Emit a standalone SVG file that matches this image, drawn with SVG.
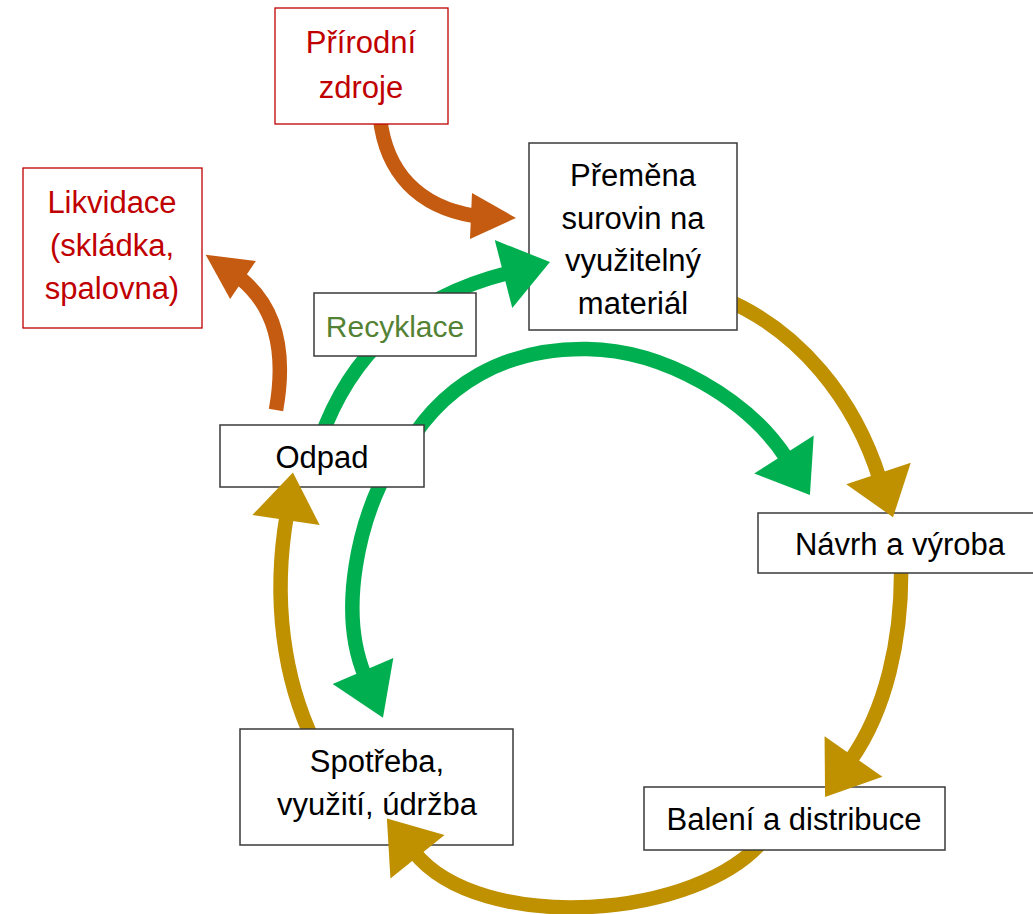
<svg xmlns="http://www.w3.org/2000/svg" xmlns:xlink="http://www.w3.org/1999/xlink" width="1033" height="914" viewBox="0 0 1033 914">
  <style>
    text { font-family: "Liberation Sans", Arial, sans-serif; font-size: 31px; text-anchor: middle; fill: #000; }
    .box { fill: #fff; stroke: #3a3a3a; stroke-width: 1.5; }
    .rbox { fill: #fff; stroke: #c00000; stroke-width: 1.3; }
    .red { fill: #c00000; }
    .grn { fill: #548235; font-size: 30px; }
    .arc { fill: none; stroke-width: 14.5; stroke-linecap: butt; }
    .gold { stroke: #bf9000; }
    .green { stroke: #00b050; }
    .orange { stroke: #c55a11; }
    .hgold { fill: #bf9000; }
    .hgreen { fill: #00b050; }
    .horange { fill: #c55a11; }
  </style>
  <defs>
    <path id="head" d="M0,-34 L48,0 L0,34 Z"/>
    <path id="headSmall" d="M0,-23 L45,0 L0,23 Z"/>
  </defs>
  <rect width="1033" height="914" fill="#fff"/>

  <!-- curved arrow bodies; their tails run behind the boxes -->
  <g id="connectors">
    <!-- outer cycle -->
    <path class="arc gold" d="M722,298 C800,330 855,400 880,480"/>
    <path class="arc gold" d="M901,560 C903,640 885,712 850,761"/>
    <path class="arc gold" d="M765,838 C700,920 480,935 414,852"/>
    <path class="arc gold" d="M314,742 C284,680 272,600 287,514"/>
    <!-- recycling loop -->
    <path class="arc green" d="M398,462 C440,380 510,348 587,349 C665,350 749,400 787,459"/>
    <path class="arc green" d="M392,462 C358,520 338,612 365,676"/>
    <path class="arc green" d="M320,440 C350,355 409,298 508,273"/>
    <!-- inflow and outflow -->
    <path class="arc orange" d="M380,118 C386,172 418,207 475,216"/>
    <path class="arc orange" d="M276,410 C285,360 280,310 240,278"/>
  </g>

  <g id="node-prirodni-zdroje">
    <rect class="rbox" x="275" y="8" width="173" height="116"/>
    <text class="red" x="361" y="53">Přírodní</text>
    <text class="red" x="361" y="98">zdroje</text>
  </g>

  <g id="node-likvidace">
    <rect class="rbox" x="23" y="168" width="179" height="160"/>
    <text class="red" x="112" y="213">Likvidace</text>
    <text class="red" x="112" y="256">(skládka,</text>
    <text class="red" x="112" y="299">spalovna)</text>
  </g>

  <g id="node-premena">
    <rect class="box" x="529" y="143" width="208" height="187"/>
    <text x="633" y="186">Přeměna</text>
    <text x="633" y="229">surovin na</text>
    <text x="633" y="271">využitelný</text>
    <text x="633" y="314">materiál</text>
  </g>

  <g id="node-recyklace">
    <rect class="box" x="314" y="293" width="162" height="63"/>
    <text class="grn" x="395" y="337">Recyklace</text>
  </g>

  <g id="node-odpad">
    <rect class="box" x="220" y="425" width="204" height="62"/>
    <text x="322" y="468">Odpad</text>
  </g>

  <g id="node-navrh">
    <rect class="box" x="758" y="513" width="280" height="60"/>
    <text x="900" y="555">Návrh a výroba</text>
  </g>

  <g id="node-baleni">
    <rect class="box" x="644" y="787" width="301" height="63"/>
    <text x="794" y="830">Balení a distribuce</text>
  </g>

  <g id="node-spotreba">
    <rect class="box" x="240" y="729" width="273" height="116"/>
    <text x="377" y="772">Spotřeba,</text>
    <text x="377" y="815">využití, údržba</text>
  </g>

  <!-- arrow tips sit above the boxes they point into -->
  <g id="arrowheads">
    <use xlink:href="#head" class="hgold" transform="translate(878.5,473.5) rotate(71.6) scale(0.96,1)"/>
    <use xlink:href="#head" class="hgold" transform="translate(853.5,756.5) rotate(125.1) scale(1.03,1.04)"/>
    <use xlink:href="#head" class="hgold" transform="translate(417.5,856.7) rotate(-128.7) scale(1.02,1.02)"/>
    <use xlink:href="#head" class="hgold" transform="translate(286,520) rotate(-81.7)"/>
    <use xlink:href="#head" class="hgreen" transform="translate(784,454.5) rotate(57.3) scale(1,1.04)"/>
    <use xlink:href="#head" class="hgreen" transform="translate(363,671) rotate(66.9) scale(1.06,0.97)"/>
    <use xlink:href="#head" class="hgreen" transform="translate(503.5,274) rotate(-14.5) scale(1,1.03)"/>
    <use xlink:href="#headSmall" class="horange" transform="translate(471,216) rotate(2.5)"/>
    <use xlink:href="#headSmall" class="horange" transform="translate(243,280) rotate(-146)"/>
  </g>
</svg>
